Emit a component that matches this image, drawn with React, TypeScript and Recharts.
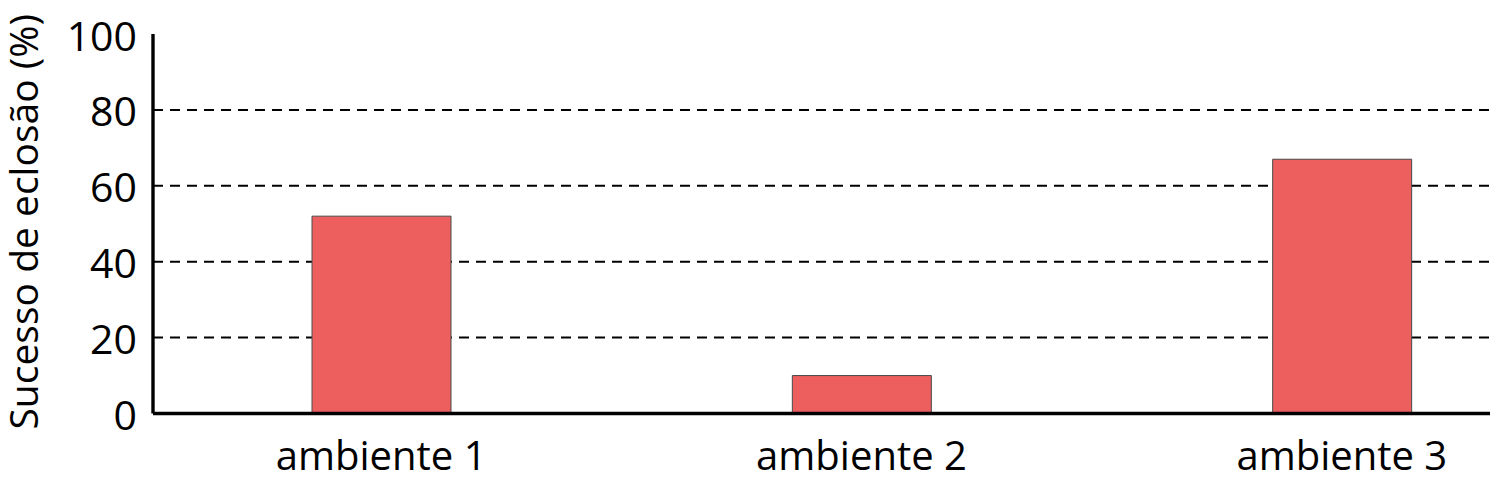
import { BarChart, Bar, XAxis, YAxis, CartesianGrid } from "recharts";

const categories = ["ambiente 1", "ambiente 2", "ambiente 3"];
const hatchSuccess = [52, 10, 67];
const yTicks = [0, 20, 40, 60, 80, 100];

const data = categories.map((name, i) => ({ name, value: hatchSuccess[i] }));

const FONT = "'Open Sans', 'Noto Sans', sans-serif";

export default function App() {
  return (
    <div style={{ width: 1490, height: 475, overflow: "hidden", fontFamily: FONT }}>
      <BarChart
        width={1574}
        height={475}
        data={data}
        margin={{ top: 26, right: 0, bottom: 0, left: 0 }}
        barSize={139}
      >
        <CartesianGrid
          vertical={false}
          stroke="#000"
          strokeWidth={2}
          strokeDasharray="10 7"
          horizontalValues={[20, 40, 60, 80]}
        />
        <XAxis
          dataKey="name"
          height={69.5}
          padding={{ left: -12, right: 0 }}
          axisLine={{ stroke: "#000", strokeWidth: 3.4 }}
          tickLine={false}
          tickSize={0}
          tickMargin={28}
          tick={{ fill: "#000", fontSize: 40, fontFamily: FONT }}
        />
        <YAxis
          width={145}
          domain={[0, 100]}
          ticks={yTicks}
          interval={0}
          axisLine={{ stroke: "#000", strokeWidth: 3.4 }}
          tickLine={false}
          tickSize={0}
          tickMargin={16}
          tick={{ fill: "#000", fontSize: 41, fontFamily: FONT, dy: 2 }}
          label={{
            value: "Sucesso de eclosão (%)",
            angle: -90,
            position: "center",
            dx: -56,
            dy: -2,
            style: { fill: "#000", fontSize: 39, fontFamily: FONT, textAnchor: "middle" },
          }}
        />
        <Bar
          dataKey="value"
          fill="#ED5F5F"
          stroke="#4a4a4a"
          strokeWidth={1}
          isAnimationActive={false}
        />
      </BarChart>
    </div>
  );
}
